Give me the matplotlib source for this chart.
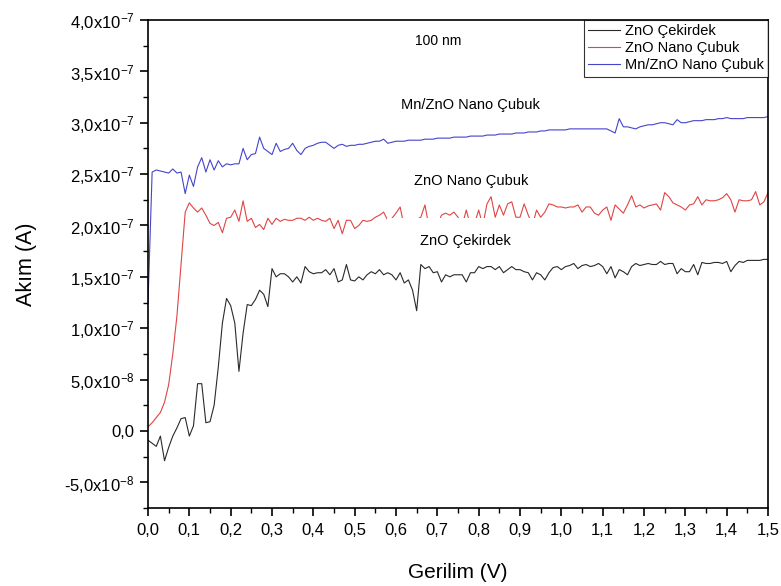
import numpy as np
import matplotlib
matplotlib.use("Agg")
import matplotlib.pyplot as plt
from matplotlib.ticker import MultipleLocator, FuncFormatter
from matplotlib.patches import Rectangle

plt.rcParams['font.family'] = ['Liberation Sans', 'DejaVu Sans']
plt.rcParams['mathtext.fontset'] = 'custom'
plt.rcParams['mathtext.rm'] = 'Liberation Sans'
plt.rcParams['mathtext.it'] = 'Liberation Sans:italic'

# Voltage sweep (V), 0.01 V steps
voltage = np.round(np.arange(0, 151) * 0.01, 2)

# Current values in units of 1e-7 A
zno_cekirdek = [
    -0.09, -0.12, -0.15, -0.05, -0.29, -0.16, -0.05, 0.03, 0.12, 0.13,
    -0.05, 0.05, 0.46, 0.46, 0.08, 0.09, 0.25, 0.62, 1.05, 1.29,
    1.22, 1.05, 0.58, 0.95, 1.23, 1.22, 1.28, 1.37, 1.33, 1.21,
    1.58, 1.50, 1.53, 1.53, 1.50, 1.45, 1.50, 1.44, 1.60, 1.55,
    1.53, 1.54, 1.54, 1.57, 1.52, 1.58, 1.45, 1.47, 1.62, 1.47,
    1.46, 1.50, 1.47, 1.52, 1.55, 1.53, 1.57, 1.52, 1.54, 1.52,
    1.47, 1.54, 1.44, 1.47, 1.37, 1.17, 1.62, 1.58, 1.60, 1.54,
    1.55, 1.45, 1.52, 1.50, 1.52, 1.52, 1.52, 1.45, 1.54, 1.54,
    1.60, 1.58, 1.60, 1.60, 1.57, 1.60, 1.54, 1.57, 1.60, 1.57,
    1.57, 1.55, 1.54, 1.47, 1.54, 1.52, 1.47, 1.54, 1.59, 1.60,
    1.57, 1.60, 1.61, 1.63, 1.58, 1.61, 1.62, 1.60, 1.61, 1.63,
    1.60, 1.53, 1.60, 1.49, 1.57, 1.55, 1.52, 1.60, 1.63, 1.61,
    1.62, 1.63, 1.62, 1.62, 1.65, 1.62, 1.63, 1.63, 1.53, 1.58,
    1.55, 1.55, 1.62, 1.52, 1.64, 1.63, 1.63, 1.64, 1.64, 1.63,
    1.65, 1.55, 1.61, 1.65, 1.64, 1.66, 1.66, 1.66, 1.66, 1.67,
    1.67,
]

zno_nano = [
    0.04, 0.08, 0.13, 0.18, 0.28, 0.45, 0.75, 1.12, 1.62, 2.13,
    2.22, 2.17, 2.13, 2.17, 2.10, 2.02, 2.00, 2.03, 1.93, 2.07,
    2.08, 2.15, 2.04, 2.24, 2.04, 2.07, 1.98, 2.01, 1.96, 2.07,
    2.01, 2.07, 2.04, 2.06, 2.05, 2.05, 2.07, 2.07, 2.05, 2.08,
    2.05, 2.07, 2.05, 2.04, 2.07, 1.97, 2.05, 1.92, 2.05, 2.05,
    1.97, 2.00, 2.05, 2.04, 2.05, 2.08, 2.10, 2.13, 2.05, 2.07,
    2.12, 2.18, 1.98, 2.00, 1.98, 2.06, 2.08, 2.20, 1.98, 2.02,
    2.00, 2.10, 2.12, 2.10, 2.13, 2.08, 2.00, 2.15, 2.00, 2.02,
    2.15, 2.00, 2.21, 2.28, 2.08, 2.20, 2.10, 2.21, 2.23, 2.08,
    2.08, 2.21, 2.10, 2.00, 2.15, 2.08, 2.13, 2.21, 2.20, 2.18,
    2.18, 2.17, 2.18, 2.18, 2.20, 2.13, 2.18, 2.18, 2.12, 2.10,
    2.15, 2.18, 2.05, 2.20, 2.16, 2.12, 2.20, 2.29, 2.18, 2.20,
    2.17, 2.19, 2.20, 2.21, 2.15, 2.32, 2.28, 2.22, 2.20, 2.18,
    2.15, 2.20, 2.21, 2.28, 2.20, 2.25, 2.24, 2.24, 2.25, 2.27,
    2.31, 2.25, 2.13, 2.25, 2.24, 2.24, 2.25, 2.33, 2.20, 2.23,
    2.32,
]

mn_zno_nano = [
    1.25, 2.52, 2.54, 2.53, 2.52, 2.51, 2.55, 2.51, 2.52, 2.31,
    2.49, 2.38, 2.57, 2.66, 2.52, 2.64, 2.54, 2.63, 2.57, 2.60,
    2.59, 2.60, 2.60, 2.75, 2.64, 2.69, 2.70, 2.86, 2.75, 2.72,
    2.69, 2.80, 2.72, 2.74, 2.75, 2.80, 2.73, 2.69, 2.75, 2.77,
    2.78, 2.80, 2.81, 2.81, 2.78, 2.75, 2.78, 2.79, 2.77, 2.78,
    2.78, 2.79, 2.79, 2.80, 2.81, 2.82, 2.82, 2.84, 2.80, 2.81,
    2.82, 2.82, 2.82, 2.83, 2.83, 2.83, 2.83, 2.84, 2.84, 2.84,
    2.85, 2.85, 2.85, 2.85, 2.86, 2.86, 2.86, 2.86, 2.87, 2.87,
    2.87, 2.87, 2.88, 2.88, 2.88, 2.89, 2.89, 2.89, 2.89, 2.90,
    2.90, 2.90, 2.91, 2.91, 2.91, 2.92, 2.92, 2.93, 2.93, 2.93,
    2.93, 2.93, 2.94, 2.94, 2.94, 2.94, 2.94, 2.94, 2.94, 2.94,
    2.94, 2.94, 2.92, 2.90, 3.04, 2.96, 2.96, 2.95, 2.94, 2.96,
    2.97, 2.98, 2.98, 2.99, 3.00, 3.00, 2.99, 2.98, 3.03, 3.00,
    3.00, 3.01, 3.02, 3.02, 3.02, 3.03, 3.03, 3.03, 3.04, 3.04,
    3.05, 3.04, 3.04, 3.04, 3.04, 3.05, 3.05, 3.05, 3.05, 3.05,
    3.06,
]

series_labels = ["ZnO Çekirdek", "ZnO Nano Çubuk", "Mn/ZnO Nano Çubuk"]
series_colors = ["#2a2a2a", "#e04444", "#4444cc"]

fig = plt.figure(figsize=(7.81, 5.86), dpi=100)
ax = fig.add_axes([0.1895, 0.1331, 0.7939, 0.8328])

scale = 1e-7
for vals, lab, col in zip([zno_cekirdek, zno_nano, mn_zno_nano], series_labels, series_colors):
    ax.plot(voltage, np.array(vals) * scale, color=col, lw=0.8, label=lab, zorder=2)

ax.set_xlim(0, 1.5)
ax.set_ylim(-7.5e-8, 4.0e-7)

ax.xaxis.set_major_locator(MultipleLocator(0.1))
ax.xaxis.set_minor_locator(MultipleLocator(0.05))
ax.yaxis.set_major_locator(MultipleLocator(5e-8))
ax.yaxis.set_minor_locator(MultipleLocator(2.5e-8))


def fmt_y(v, pos):
    if abs(v) < 1e-12:
        return "0,0"
    exp = int(np.floor(np.log10(abs(v)) + 1e-9))
    mant = v / 10 ** exp
    return ("%.1f" % mant).replace(".", ",") + "x10$^{%d}$" % exp


ax.yaxis.set_major_formatter(FuncFormatter(fmt_y))
ax.xaxis.set_major_formatter(FuncFormatter(lambda v, p: ("%.1f" % v).replace(".", ",")))

ax.tick_params(axis='both', which='major', direction='out', length=6, width=1.2,
               labelsize=12, top=False, right=False)
ax.tick_params(axis='x', which='major', pad=5)
ax.tick_params(axis='both', which='minor', direction='out', length=3.5, width=1.0,
               top=False, right=False)
for sp in ax.spines.values():
    sp.set_linewidth(1.2)

ax.set_xlabel("Gerilim (V)", fontsize=15, labelpad=18)
ax.set_ylabel("Akım (A)", fontsize=15.5, labelpad=20)

# White backing behind the lower label
ax.add_patch(Rectangle((0.578, 1.66e-7), 0.358, 0.41e-7, facecolor='white',
                       edgecolor='none', zorder=2.5))

ax.text(0.702, 3.80e-7, "100 nm", fontsize=10, ha='center', va='center', zorder=3)
ax.text(0.779, 3.17e-7, "Mn/ZnO Nano Çubuk", fontsize=10.5, ha='center', va='center', zorder=3)
ax.text(0.781, 2.43e-7, "ZnO Nano Çubuk", fontsize=10.5, ha='center', va='center', zorder=3)
ax.text(0.767, 1.85e-7, "ZnO Çekirdek", fontsize=10.5, ha='center', va='center', zorder=3)

leg = ax.legend(loc='upper right', fontsize=10.5, frameon=True, fancybox=False,
                borderaxespad=0, handlelength=2.2, handletextpad=0.3,
                borderpad=0.3, labelspacing=0.2)
leg.get_frame().set_edgecolor('black')
leg.get_frame().set_linewidth(0.8)

fig.savefig("out.png", dpi=100)
